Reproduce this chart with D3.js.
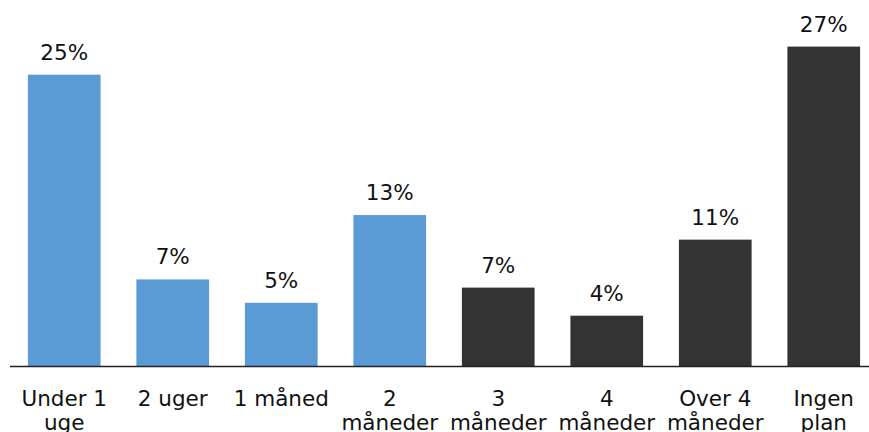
<!DOCTYPE html>
<html>
<head>
<meta charset="utf-8">
<script src="https://cdn.jsdelivr.net/npm/d3@7"></script>
<style>
  html, body { margin: 0; padding: 0; background: #fff; }
  svg { display: block; font-family: "DejaVu Sans", Verdana, sans-serif; }
</style>
</head>
<body>
<svg id="chart" width="869" height="432"></svg>
<script>
// categories (label lines) and shares
const categories = [
  ["Under 1", "uge"],
  ["2 uger"],
  ["1 måned"],
  ["2", "måneder"],
  ["3", "måneder"],
  ["4", "måneder"],
  ["Over 4", "måneder"],
  ["Ingen", "plan"]
];
const values = [0.249, 0.074, 0.054, 0.129, 0.067, 0.043, 0.108, 0.273];
const groups = ["a", "a", "a", "a", "b", "b", "b", "b"];

const colorOf = { a: "#5b9bd5", b: "#333333" };

const width = 869;
const height = 432;
const baseY = 366;

const svg = d3.select("#chart");

const x = d3.scaleBand()
  .domain(d3.range(categories.length))
  .range([10, 878])
  .paddingInner(0.33)
  .paddingOuter(0.165);

const y = d3.scaleLinear()
  .domain([0, 0.30])
  .range([baseY, baseY - 351]);

const fmt = d3.format(".0%");

svg.selectAll("rect.bar")
  .data(values)
  .join("rect")
  .attr("class", "bar")
  .attr("x", (d, i) => x(i))
  .attr("y", d => y(d))
  .attr("width", x.bandwidth())
  .attr("height", d => baseY - y(d))
  .attr("fill", (d, i) => colorOf[groups[i]]);

svg.selectAll("text.val")
  .data(values)
  .join("text")
  .attr("class", "val")
  .attr("x", (d, i) => x(i) + x.bandwidth() / 2)
  .attr("y", d => y(d) - 15)
  .attr("text-anchor", "middle")
  .attr("font-size", 21.5)
  .attr("fill", "#111")
  .text(d => fmt(d));

// baseline
svg.append("line")
  .attr("x1", 10)
  .attr("x2", width)
  .attr("y1", baseY + 0.5)
  .attr("y2", baseY + 0.5)
  .attr("stroke", "#222")
  .attr("stroke-width", 1.5);

const labels = svg.selectAll("text.cat")
  .data(categories)
  .join("text")
  .attr("class", "cat")
  .attr("text-anchor", "middle")
  .attr("font-size", 21.5)
  .attr("fill", "#111");

labels.selectAll("tspan")
  .data((d, i) => d.map(line => ({ line, i })))
  .join("tspan")
  .attr("x", d => x(d.i) + x.bandwidth() / 2)
  .attr("y", (d, j) => 406 + j * 24)
  .text(d => d.line);
</script>
</body>
</html>
